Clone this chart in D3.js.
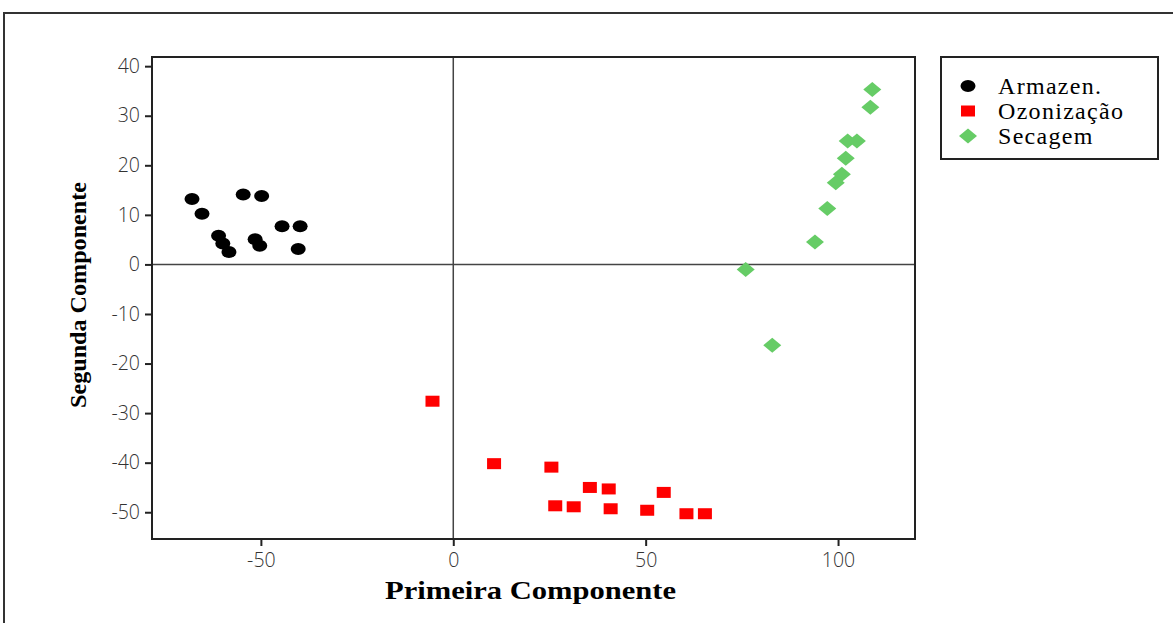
<!DOCTYPE html>
<html>
<head>
<meta charset="utf-8">
<script src="https://cdn.jsdelivr.net/npm/d3@7"></script>
<style>
body { margin: 0; background: #fff; }
.tick text { font-family: "Open Sans", sans-serif; font-weight: 300; font-size: 19.5px; fill: #333; }
.axisTitle { font-family: "Liberation Serif", serif; font-weight: bold; }
.legText { font-family: "Liberation Serif", serif; font-size: 24px; letter-spacing: 1.3px; }
</style>
</head>
<body>
<div id="chart"></div>
<script>
// Armazen. points (x, y)
var armazen = [
  [-67.9, 13.2], [-65.3, 10.2], [-61.0, 5.8], [-59.9, 4.2], [-58.3, 2.5],
  [-54.6, 14.1], [-49.8, 13.8], [-51.5, 5.1], [-50.3, 3.75], [-44.5, 7.7],
  [-39.8, 7.7], [-40.3, 3.1]
];
// Ozonizacao points
var ozonizacao = [
  [-5.4, -27.6], [10.6, -40.2], [25.5, -40.9], [26.5, -48.7], [31.3, -48.9],
  [35.5, -45.0], [40.4, -45.3], [40.9, -49.3], [50.4, -49.6], [54.7, -46.0],
  [60.6, -50.3], [65.4, -50.3]
];
// Secagem points
var secagem = [
  [108.9, 35.3], [108.4, 31.7], [102.5, 24.9], [104.9, 24.9], [102.0, 21.4],
  [101.0, 18.2], [99.4, 16.5], [97.2, 11.3], [94.0, 4.5], [76.0, -1.0],
  [82.9, -16.3]
];
var xTicks = [-50, 0, 50, 100];
var yTicks = [-50, -40, -30, -20, -10, 0, 10, 20, 30, 40];
var legendNames = ["Armazen.", "Ozonização", "Secagem"];

var svgWidth = 1173, svgHeight = 623;
var margin = {top: 57, left: 152, right: 258, bottom: 84};
var width = svgWidth - margin.left - margin.right;
var height = svgHeight - margin.top - margin.bottom;

var svg = d3.select("#chart").append("svg")
  .attr("width", svgWidth)
  .attr("height", svgHeight);

// outer frame
svg.append("rect")
  .attr("x", 4).attr("y", 13)
  .attr("width", 1200).attr("height", 700)
  .attr("fill", "none").attr("stroke", "#333").attr("stroke-width", 2);

var g = svg.append("g").attr("transform", `translate(${margin.left}, ${margin.top})`);

var x = d3.scaleLinear().domain([-78.3, 120.0]).range([0, width]);
var y = d3.scaleLinear().domain([-55.4, 41.85]).range([height, 0]);

// reference lines
g.append("line")
  .attr("x1", x(0)).attr("x2", x(0)).attr("y1", 0).attr("y2", height)
  .attr("stroke", "#444").attr("stroke-width", 1.5);
g.append("line")
  .attr("x1", 0).attr("x2", width).attr("y1", y(0)).attr("y2", y(0))
  .attr("stroke", "#444").attr("stroke-width", 1.5);

// frame of plot
g.append("rect")
  .attr("width", width).attr("height", height)
  .attr("fill", "none").attr("stroke", "#222").attr("stroke-width", 2);

var fmt = d => String(d);
var bottomAxis = d3.axisBottom(x).tickValues(xTicks).tickFormat(fmt).tickSize(7).tickSizeOuter(0).tickPadding(7);
var leftAxis = d3.axisLeft(y).tickValues(yTicks).tickFormat(fmt).tickSize(7).tickSizeOuter(0).tickPadding(5);

var xa = g.append("g").attr("transform", `translate(0, ${height})`).call(bottomAxis);
var ya = g.append("g").call(leftAxis);
[xa, ya].forEach(function(a) {
  a.select(".domain").remove();
  a.selectAll(".tick line").attr("stroke", "#222").attr("stroke-width", 2);
});

// markers
g.selectAll(".arm").data(armazen).enter().append("ellipse")
  .attr("cx", d => x(d[0])).attr("cy", d => y(d[1]))
  .attr("rx", 7.5).attr("ry", 6)
  .attr("fill", "#000");

g.selectAll(".ozo").data(ozonizacao).enter().append("rect")
  .attr("x", d => x(d[0]) - 7).attr("y", d => y(d[1]) - 5.5)
  .attr("width", 14).attr("height", 11)
  .attr("fill", "#ff0000");

var diamond = function(cx, cy) {
  return `M${cx},${cy - 7.5}L${cx + 9},${cy}L${cx},${cy + 7.5}L${cx - 9},${cy}Z`;
};
g.selectAll(".sec").data(secagem).enter().append("path")
  .attr("d", d => diamond(x(d[0]), y(d[1])))
  .attr("fill", "#66cc66");

// axis titles
svg.append("text")
  .attr("class", "axisTitle")
  .attr("x", 385).attr("y", 599)
  .attr("font-size", "25px")
  .attr("textLength", 291).attr("lengthAdjust", "spacingAndGlyphs")
  .text("Primeira Componente");

svg.append("text")
  .attr("class", "axisTitle")
  .attr("transform", "translate(86, 408) rotate(-90)")
  .attr("x", 0).attr("y", 0)
  .attr("font-size", "24px")
  .attr("textLength", 226).attr("lengthAdjust", "spacingAndGlyphs")
  .text("Segunda Componente");

// legend
var leg = svg.append("g").attr("transform", "translate(941, 57)");
leg.append("rect")
  .attr("width", 217).attr("height", 102)
  .attr("fill", "none").attr("stroke", "#222").attr("stroke-width", 2);
var rows = leg.selectAll(".row").data(legendNames).enter().append("g")
  .attr("transform", (d, i) => `translate(27, ${29 + i * 25})`);
rows.each(function(d, i) {
  var r = d3.select(this);
  if (i === 0) r.append("ellipse").attr("rx", 7.5).attr("ry", 6).attr("fill", "#000");
  if (i === 1) r.append("rect").attr("x", -7).attr("y", -5.5).attr("width", 14).attr("height", 11).attr("fill", "#ff0000");
  if (i === 2) r.append("path").attr("d", diamond(0, 0)).attr("fill", "#66cc66");
  r.append("text").attr("class", "legText")
    .attr("x", 30).attr("y", 8)
    .text(d);
});
</script>
</body>
</html>
